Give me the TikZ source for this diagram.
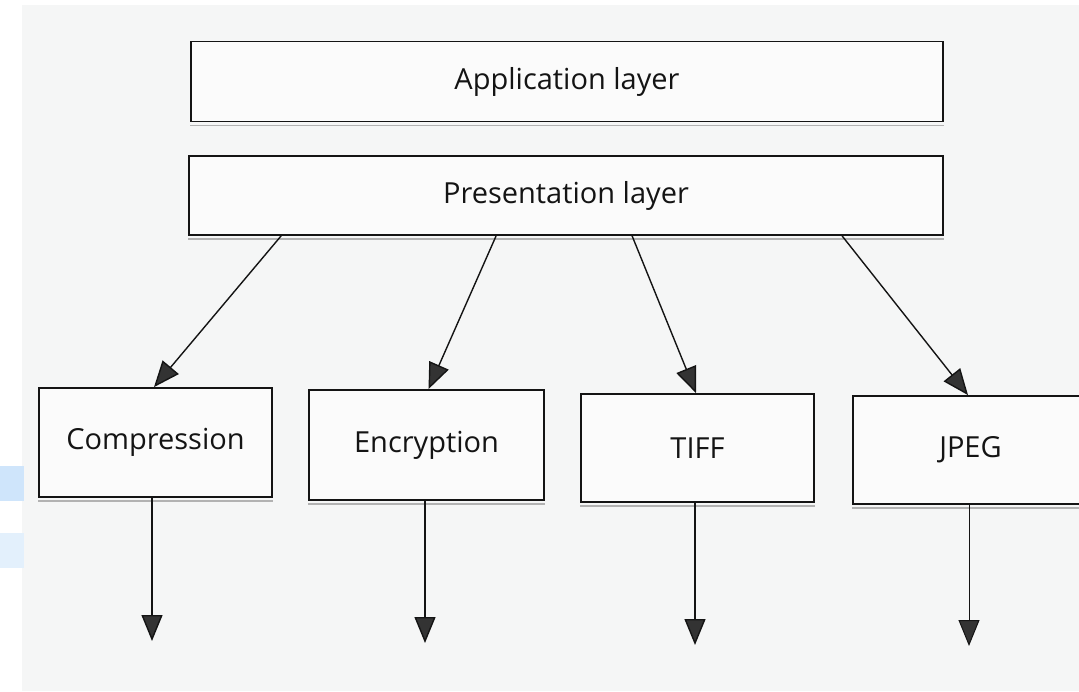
\documentclass[tikz,border=0pt]{standalone}
\usepackage{fontspec}
\setmainfont{Open Sans}
\usetikzlibrary{arrows.meta,calc}
\definecolor{paper}{HTML}{F5F6F6}
\definecolor{ink}{HTML}{141414}
\definecolor{tipgray}{HTML}{333333}
\definecolor{selA}{HTML}{CFE5FB}
\definecolor{selB}{HTML}{E3F0FC}
\tikzset{
  layerbox/.style={draw=ink, line width=1.8pt, fill=white!60!paper, inner sep=0pt,
    font=\fontsize{29}{32}\selectfont, text=ink},
  conn/.style={draw=ink, line width=1.4pt,
    -{Triangle[length=26pt,width=21pt,fill=tipgray]}},
  shadowline/.style={draw=black!30, line width=1.5pt}
}
\begin{document}
\begin{tikzpicture}[x=1pt,y=-1pt]
\useasboundingbox (0,0) rectangle (1079,691);
\clip (0,0) rectangle (1079,691);
\fill[white] (0,0) rectangle (1079,691);
\fill[paper] (22,5) rectangle (1079,691);
\fill[selA] (0,466) rectangle (24,501);
\fill[selB] (0,533) rectangle (24,568);

\node[layerbox, minimum width=752pt, minimum height=80pt] (app) at (567,81.5) {Application layer};
\node[layerbox, minimum width=754pt, minimum height=79pt] (pres) at (566,195.5) {Presentation layer};

\node[layerbox, minimum width=233pt, minimum height=109pt] (comp) at (155.5,442.5) {Compression};
\node[layerbox, minimum width=235pt, minimum height=110pt] (enc)  at (426.5,445) {Encryption};
\node[layerbox, minimum width=233pt, minimum height=108pt] (tiff) at (697.5,448) {TIFF};
\node[layerbox, minimum width=235pt, minimum height=108pt] (jpeg) at (970.5,450) {JPEG};

% faint scan shadows under bottom edges
\foreach \n in {app,pres,comp,enc,tiff,jpeg}{
  \draw[shadowline] ([yshift=-3pt]\n.south west) -- ([yshift=-3pt]\n.south east);
}

% diagonal connectors
\draw[conn] ([xshift=93pt]pres.south west) -- ([xshift=-1.5pt]comp.north);
\draw[conn] ([xshift=308pt]pres.south west) -- ([xshift=2pt]enc.north);
\draw[conn] ([xshift=444pt]pres.south west) -- ([xshift=-1.5pt]tiff.north);
\draw[conn] ([xshift=654pt]pres.south west) -- ([xshift=-2.5pt]jpeg.north);

% outgoing connectors
\coordinate (o1) at (152,641);
\coordinate (o2) at (425,643);
\coordinate (o3) at (695,645);
\coordinate (o4) at (969,646);
\draw[conn] (comp.south -| o1) -- (o1);
\draw[conn] (enc.south -| o2) -- (o2);
\draw[conn] (tiff.south -| o3) -- (o3);
\draw[conn, line width=1pt] (jpeg.south -| o4) -- (o4);
\end{tikzpicture}
\end{document}
